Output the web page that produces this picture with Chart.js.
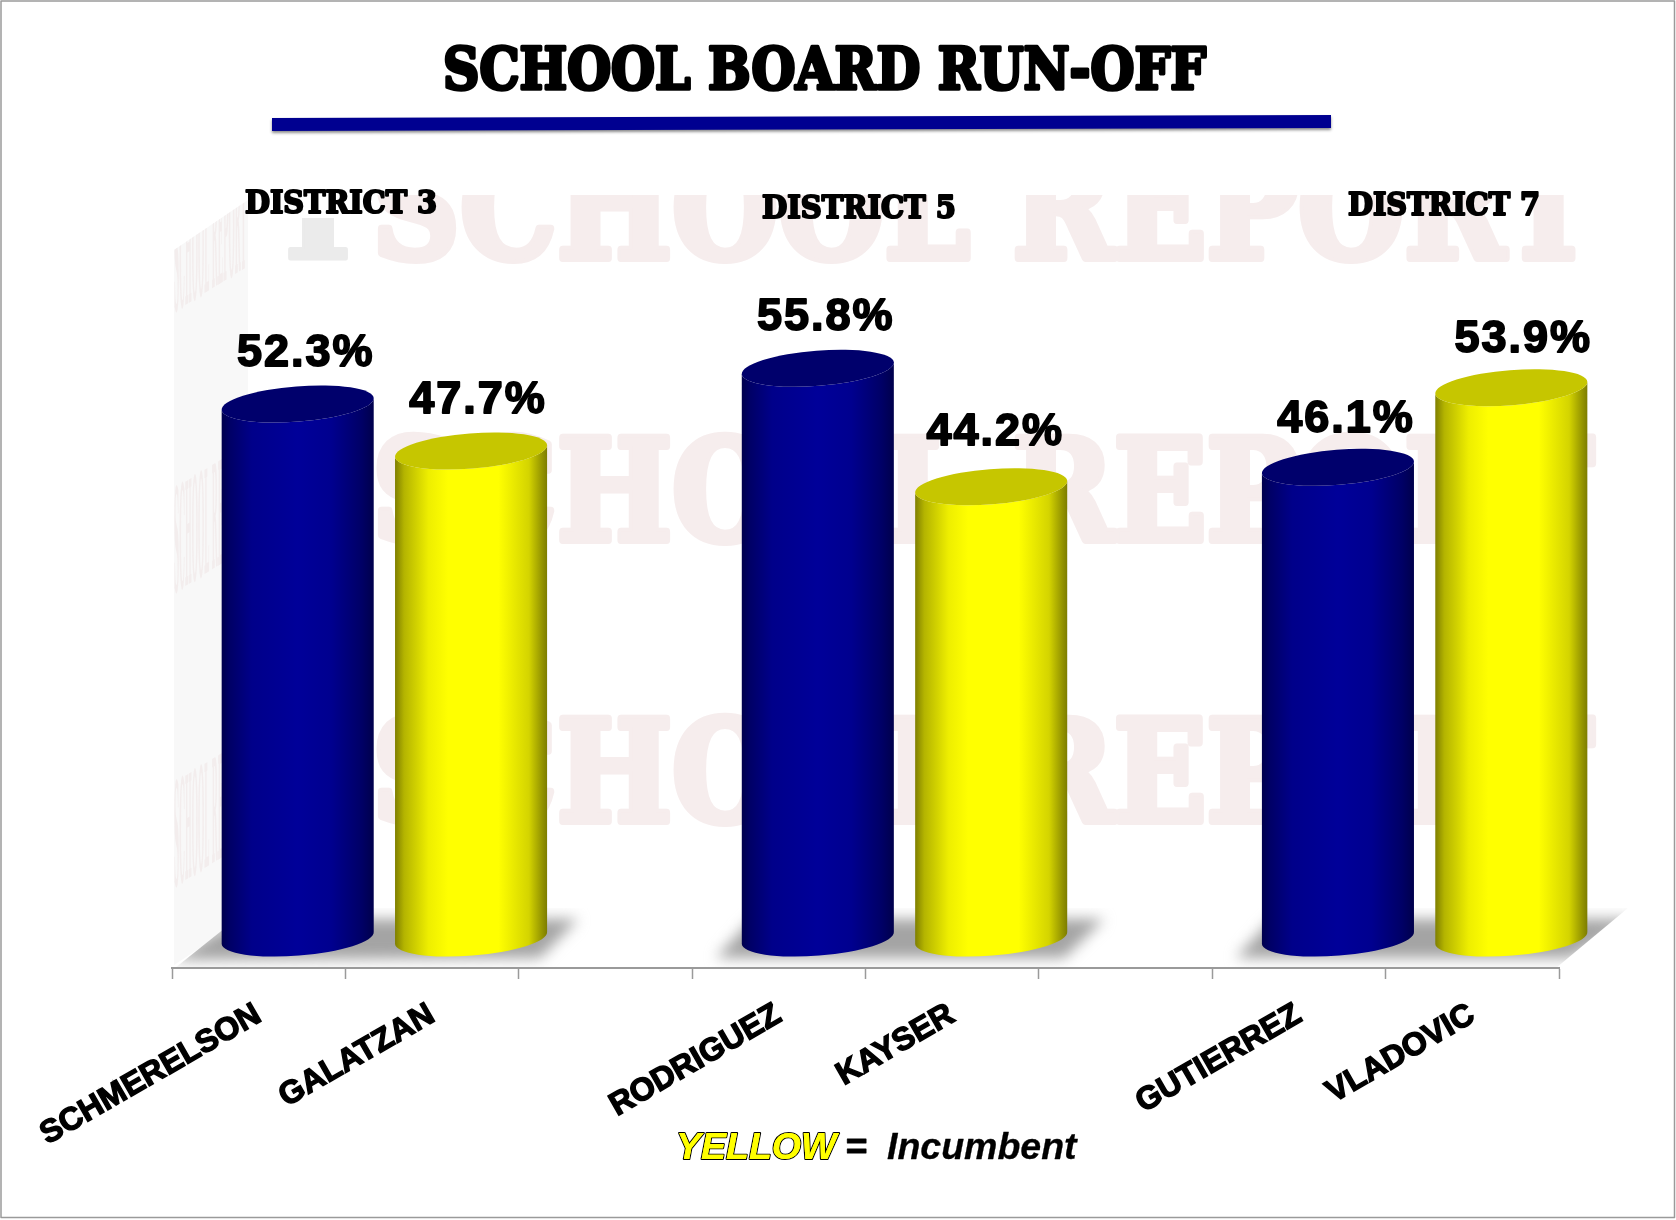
<!DOCTYPE html>
<html><head><meta charset="utf-8">
<style>html,body{margin:0;padding:0;background:#fff}canvas{display:block}</style>
<script src="https://cdn.jsdelivr.net/npm/chart.js@4"></script>
</head><body><canvas id="c" width="1676" height="1220"></canvas>
<script>
const categories = ["SCHMERELSON","GALATZAN","","RODRIGUEZ","KAYSER","","GUTIERREZ","VLADOVIC"];
const shares = [52.3,47.7,null,55.8,44.2,null,46.1,53.9];
const barColors = ["#000099","#ffff00","#000099","#000099","#ffff00","#000099","#000099","#ffff00"];
const districts = ["DISTRICT 3","DISTRICT 5","DISTRICT 7"];
const chartTitle = "SCHOOL BOARD RUN-OFF";
const watermark = "SCHOOL REPORT";

const SERIF = '"DejaVu Serif"', SANS = '"Liberation Sans"';
const DEPTH_X = 39, TILT = Math.atan(12/152), RY = 17.6;
const nudges = [[0,0],[-1,0],null,[0,0],[-4,-4],null,[0,3],[4,2]];

function poly(ctx, pts){ ctx.beginPath(); pts.forEach((p,i)=> i?ctx.lineTo(p[0],p[1]):ctx.moveTo(p[0],p[1])); ctx.closePath(); }
function txt(ctx, s, x, y, font, fill, sw, sc, maxW, align){
  ctx.font = font; ctx.textAlign = align||'left'; ctx.textBaseline='alphabetic'; ctx.lineJoin='round';
  if(sw){ ctx.lineWidth=sw; ctx.strokeStyle=sc||fill; if(maxW) ctx.strokeText(s,x,y,maxW); else ctx.strokeText(s,x,y); }
  ctx.fillStyle=fill; if(maxW) ctx.fillText(s,x,y,maxW); else ctx.fillText(s,x,y);
}

const scenery = {
  id:'scenery',
  beforeDraw(chart){
    const ctx=chart.ctx;
    ctx.save();
    ctx.fillStyle='#fff'; ctx.fillRect(0,0,1676,1220);
    // back-wall watermark
    ctx.save();
    ctx.beginPath(); ctx.rect(250,195,1386,770); ctx.clip();
    [260,542,823].forEach(b=> txt(ctx,watermark,372,b-2,'bold 140px '+SERIF,'#f6eded',8,'#f6eded',1222));
    ctx.restore();
    ctx.save();
    ctx.beginPath(); ctx.rect(284,218,67,43); ctx.clip();
    txt(ctx,'T',318,258,'bold 143px '+SERIF,'#ebebeb',5,'#ebebeb',null,'center');
    ctx.restore();
    // side wall
    ctx.save();
    poly(ctx,[[174,250],[248,200],[248,916],[174,965]]);
    ctx.fillStyle='#f8f8f8'; ctx.fill(); ctx.clip();
    [312,593,887].forEach(b=>{
      ctx.save(); ctx.transform(1,-0.62,0,1,174,b);
      txt(ctx,watermark,0,0,'bold 143px '+SERIF,'#f3eded',0,null,72);
      ctx.restore();
    });
    ctx.restore();
    // floor shadows
    ctx.save();
    poly(ctx,[[175,968],[250,908],[1628,908],[1556,968]]); ctx.clip();
    ctx.filter='blur(7px)'; ctx.fillStyle='#a4a4a4';
    [[[170,960],[240,919],[578,919],[540,958]],
     [[716,958],[752,919],[1104,919],[1064,958]],
     [[1236,958],[1272,919],[1640,919],[1570,958]]].forEach(p=>{ poly(ctx,p); ctx.fill(); });
    ctx.restore();
    ctx.restore();
  },
  beforeDatasetDraw(chart,args){
    const ctx=chart.ctx, meta=args.meta;
    meta.data.forEach((el,i)=>{
      if(shares[i]==null) return;
      const p=el.getProps(['x','y','base','width'],true);
      const cx=p.x+DEPTH_X, w=p.width, L=cx-w/2, R=cx+w/2, rx=(w/2)/Math.cos(TILT), dy=(w/2)*Math.tan(TILT);
      const g=ctx.createLinearGradient(L,0,R,0), blue=barColors[i]==='#000099';
      const stops = blue ? [[0,'#00004c'],[.05,'#000065'],[.2,'#00008a'],[.5,'#000099'],[.72,'#00008f'],[.92,'#000066'],[1,'#00004c']]
                         : [[0,'#7f7f00'],[.06,'#b4b400'],[.22,'#eeee00'],[.35,'#ffff00'],[.68,'#ffff00'],[.88,'#d4d400'],[.97,'#929200'],[1,'#7d7d00']];
      stops.forEach(s=>g.addColorStop(s[0],s[1]));
      ctx.save();
      ctx.beginPath();
      ctx.moveTo(L,p.y+dy); ctx.lineTo(L,p.base+dy);
      ctx.ellipse(cx,p.base,rx,RY,-TILT,Math.PI,0,true);
      ctx.lineTo(R,p.y-dy);
      ctx.ellipse(cx,p.y,rx,RY,-TILT,0,Math.PI,false);
      ctx.closePath();
      ctx.fillStyle=g; ctx.fill();
      ctx.beginPath(); ctx.ellipse(cx,p.y,rx,RY,-TILT,0,Math.PI*2);
      ctx.fillStyle= blue?'#00006c':'#c6c600'; ctx.fill();
      ctx.restore();
    });
    return false;
  },
  afterDatasetsDraw(chart){
    const ctx=chart.ctx, meta=chart.getDatasetMeta(0);
    ctx.save();
    ctx.letterSpacing='2px';
    meta.data.forEach((el,i)=>{
      if(shares[i]==null) return;
      const n=nudges[i];
      txt(ctx,shares[i].toFixed(1)+'%',el.x+DEPTH_X+8+n[0],el.y-38+n[1],'bold 45px '+SANS,'#000',1.8,'#000',null,'center');
    });
    ctx.letterSpacing='0px';
    // title + rule
    txt(ctx,chartTitle,443,89,'bold 57px '+SERIF,'#000',3.6,'#000',763);
    ctx.save(); ctx.shadowColor='rgba(0,0,0,.45)'; ctx.shadowBlur=3; ctx.shadowOffsetY=2;
    poly(ctx,[[272,118],[1331,115],[1331,128],[272,131]]); ctx.fillStyle='#000090'; ctx.fill(); ctx.restore();
    // district headers
    txt(ctx,districts[0],245,213,'bold 31px '+SERIF,'#000',2.2,'#000',192);
    txt(ctx,districts[1],762,218,'bold 31px '+SERIF,'#000',2.2,'#000',194);
    txt(ctx,districts[2],1348,215,'bold 31px '+SERIF,'#000',2.2,'#000',192);
    // key
    const f='italic bold 37.5px '+SANS;
    txt(ctx,'YELLOW',676,1159,f,'#ffff00',2.2,'#000');
    txt(ctx,'YELLOW',676,1159,f,'#ffff00',0);
    txt(ctx,'=',845,1159,f,'#000',0.8,'#000');
    txt(ctx,'Incumbent',887,1159,f,'#000',0.3,'#000');
    ctx.strokeStyle='#9a9a9a'; ctx.lineWidth=1.5; ctx.strokeRect(1,1,1673.5,1216.5);
    ctx.restore();
  }
};

new Chart(document.getElementById('c'),{
  type:'bar',
  data:{labels:categories,datasets:[{label:'Share',data:shares,backgroundColor:barColors,barPercentage:0.877,categoryPercentage:1}]},
  plugins:[scenery],
  options:{
    responsive:false,animation:false,devicePixelRatio:1,
    layout:{padding:{left:172,right:117,top:325.4,bottom:0}},
    plugins:{legend:{display:false},tooltip:{enabled:false},title:{display:false}},
    scales:{
      y:{display:false,min:-2.94,max:60},
      x:{
        offset:true,
        afterFit(s){ s.height=252; s.paddingLeft=0; s.paddingRight=0; },
        border:{color:'#9a9a9a',width:2},
        grid:{drawOnChartArea:false,drawTicks:true,tickLength:11,color:'#9a9a9a',tickWidth:1.5,offset:true},
        ticks:{autoSkip:false,minRotation:30,maxRotation:30,padding:17,color:'#000',
          font:{family:'Liberation Sans',weight:'bold',size:32},textStrokeWidth:1.4,textStrokeColor:'#000'}
      }
    }
  }
});
</script></body></html>
